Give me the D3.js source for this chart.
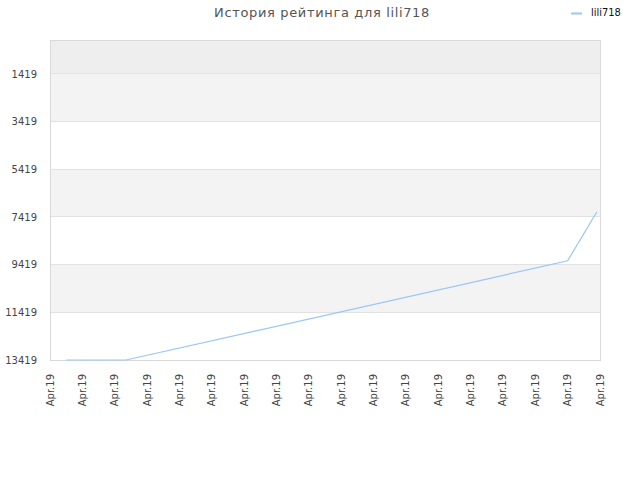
<!DOCTYPE html>
<html><head><meta charset="utf-8">
<script src="https://cdn.jsdelivr.net/npm/d3@7"></script>
<style>body{margin:0;background:#fff;}svg{display:block;}</style>
</head><body>
<svg id="c" width="640" height="480"></svg>
<script>
const title = "История рейтинга для lili718";
const seriesName = "lili718";
const xTickLabels = ["Apr.19","Apr.19","Apr.19","Apr.19","Apr.19","Apr.19","Apr.19","Apr.19","Apr.19","Apr.19","Apr.19","Apr.19","Apr.19","Apr.19","Apr.19","Apr.19","Apr.19","Apr.19"];
const yTicks = [1419, 3419, 5419, 7419, 9419, 11419, 13419];
const pointX = [0.5, 2.35, 16.0, 16.9];
const pointY = [13419, 13419, 9260, 7210];

const svg = d3.select("#c");
const L = 50, R = 600, T = 40, B = 360;
const x = d3.scaleLinear().domain([0, xTickLabels.length - 1]).range([L, R]);
const y = d3.scaleLinear().domain([0, 13419]).range([T, B]);

// bands
const bandEdges = [0].concat(yTicks);
for (let i = 0; i < bandEdges.length - 1; i++) {
  let fill = i === 0 ? "#eeeeee" : (i % 2 === 1 ? "#f3f3f3" : "#ffffff");
  svg.append("rect").attr("x", L).attr("y", y(bandEdges[i])).attr("width", R - L)
    .attr("height", y(bandEdges[i + 1]) - y(bandEdges[i])).attr("fill", fill);
}
// gridlines
svg.append("g").selectAll("line").data(yTicks).join("line")
  .attr("x1", L).attr("x2", R).attr("y1", d => y(d)).attr("y2", d => y(d))
  .attr("stroke", "#e2e2e2").attr("stroke-width", 1).attr("shape-rendering", "crispEdges");
// border
svg.append("rect").attr("x", L).attr("y", T).attr("width", R - L).attr("height", B - T)
  .attr("fill", "none").attr("stroke", "#d9d9d9").attr("shape-rendering", "crispEdges");

// y axis
const yAxis = d3.axisLeft(y).tickValues(yTicks).tickSize(0).tickPadding(13).tickFormat(d => d);
const gy = svg.append("g").attr("transform", `translate(${L},0)`).call(yAxis);
gy.select(".domain").remove();
gy.selectAll("text").attr("font-family", "DejaVu Sans, sans-serif").attr("font-size", 10).attr("fill", "#444");

// x axis
const xAxis = d3.axisBottom(x).tickValues(d3.range(xTickLabels.length)).tickSize(0).tickFormat(i => xTickLabels[i]);
const gx = svg.append("g").attr("transform", `translate(0,${B})`).call(xAxis);
gx.select(".domain").remove();
gx.selectAll("text").attr("font-family", "DejaVu Sans, sans-serif").attr("font-size", 10).attr("fill", "#444")
  .attr("transform", "rotate(-90)").attr("text-anchor", "end").attr("dy", "0.3em").attr("x", -14).attr("y", 0);

// line
const pts = pointX.map((v, i) => [v, pointY[i]]);
svg.append("path").datum(pts)
  .attr("d", d3.line().x(d => x(d[0])).y(d => y(d[1])))
  .attr("fill", "none").attr("stroke", "#99c7f3").attr("stroke-width", 1.2);

// title
svg.append("text").attr("x", 322).attr("y", 17).attr("text-anchor", "middle")
  .attr("font-family", "DejaVu Sans, sans-serif").attr("font-size", 13).attr("fill", "#555")
  .attr("letter-spacing", "0.65").text(title);

// legend
svg.append("line").attr("x1", 571).attr("x2", 582).attr("y1", 13.5).attr("y2", 13.5)
  .attr("stroke", "#99c7f3").attr("stroke-width", 2);
svg.append("text").attr("x", 591).attr("y", 16).attr("font-family", "DejaVu Sans Condensed, DejaVu Sans, sans-serif")
  .attr("font-size", 11).attr("fill", "#111").text(seriesName);
</script>
</body></html>
